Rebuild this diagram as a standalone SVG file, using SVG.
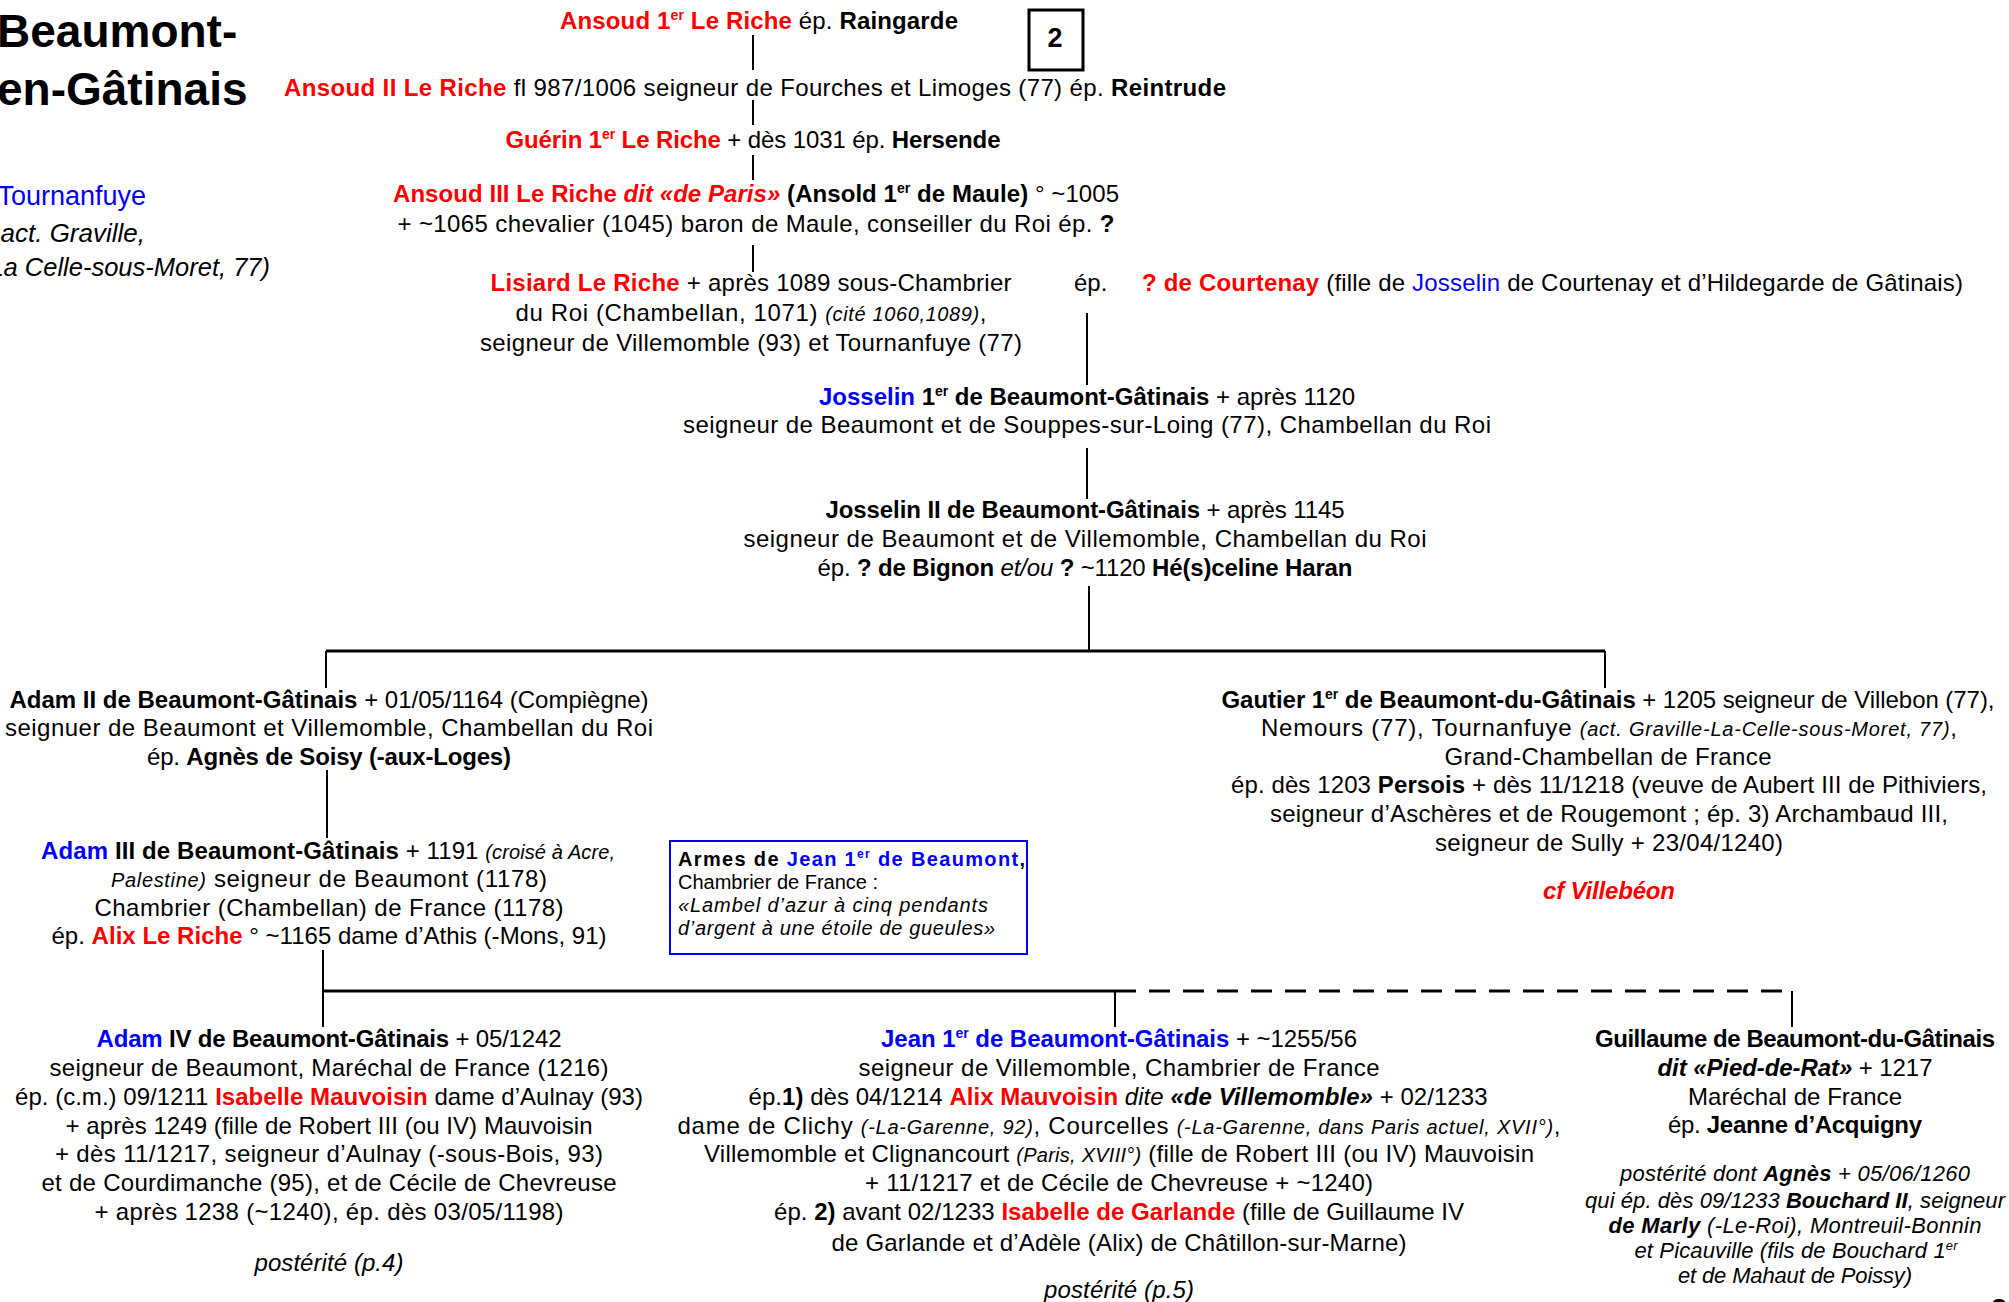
<svg xmlns="http://www.w3.org/2000/svg" width="2009" height="1302" viewBox="0 0 2009 1302">
<style>
text{font-family:"Liberation Sans",Arial,Helvetica,sans-serif;font-size:24px;fill:#000}
.c{text-anchor:middle}
.e{text-anchor:end}
.b{font-weight:bold}
.i{font-style:italic}
.r{fill:#ff0000}
.u{fill:#0000ff}
.s{font-size:20px}
.n{font-size:22px}
.t46{font-size:46px}
.t27{font-size:27px}
.t26{font-size:26px}
.t25{font-size:25.5px}
.ln{stroke:#000;stroke-width:2;fill:none}
.bar{stroke:#000;stroke-width:3;fill:none}
.dash{stroke-dasharray:21 13}
</style>
<rect width="2009" height="1302" fill="#fff"/>

<g id="title">
<text x="-3" y="47" class="b t46">Beaumont-</text>
<text x="-3" y="105" class="b t46">en-Gâtinais</text>
<text x="146" y="205" class="e u t27">Tournanfuye</text>
<text x="145" y="242" class="e i t26">act. Graville,</text>
<text x="270" y="276" class="e i t25">La Celle-sous-Moret, 77)</text>
</g>

<g id="page-box">
<rect x="1029" y="10" width="54" height="60" fill="none" stroke="#000" stroke-width="3"/>
<text x="1055" y="47" class="c b t27">2</text>
</g>

<g id="connectors">
<line class="ln" x1="753" y1="35" x2="753" y2="70"/>
<line class="ln" x1="753" y1="100" x2="753" y2="125"/>
<line class="ln" x1="753" y1="155" x2="753" y2="180"/>
<line class="ln" x1="753" y1="245" x2="753" y2="272"/>
<line class="ln" x1="1087" y1="313" x2="1087" y2="385"/>
<line class="ln" x1="1087" y1="448" x2="1087" y2="499"/>
<line class="ln" x1="1089" y1="586" x2="1089" y2="651"/>
<line class="bar" x1="326" y1="651" x2="1605" y2="651"/>
<line class="ln" x1="326" y1="651" x2="326" y2="688"/>
<line class="ln" x1="1605" y1="651" x2="1605" y2="688"/>
<line class="ln" x1="327" y1="770" x2="327" y2="838"/>
<line class="ln" x1="323" y1="950" x2="323" y2="1027"/>
<line class="bar" x1="323" y1="991" x2="1115" y2="991"/>
<line class="bar dash" x1="1115" y1="991" x2="1792" y2="991"/>
<line class="ln" x1="1115" y1="991" x2="1115" y2="1027"/>
<line class="ln" x1="1792" y1="991" x2="1792" y2="1027"/>
</g>

<g id="n-ansoud1">
<text class="c" x="759" y="29" textLength="398"><tspan class="b r">Ansoud 1<tspan font-size="14" dy="-9">er</tspan><tspan dy="9"> Le Riche</tspan></tspan>  ép. <tspan class="b">Raingarde</tspan></text>
</g>

<g id="n-ansoud2">
<text class="c" x="755" y="96" textLength="942"><tspan class="b r">Ansoud II Le Riche</tspan>  fl 987/1006 seigneur de Fourches et Limoges (77) ép. <tspan class="b">Reintrude</tspan></text>
</g>

<g id="n-guerin">
<text class="c" x="753" y="148" textLength="495"><tspan class="b r">Guérin 1<tspan font-size="14" dy="-9">er</tspan><tspan dy="9"> Le Riche</tspan></tspan> + dès 1031 ép. <tspan class="b">Hersende</tspan></text>
</g>

<g id="n-ansoud3">
<text class="c" x="756" y="202" textLength="726"><tspan class="b r">Ansoud III Le Riche <tspan class="i">dit «de Paris»</tspan></tspan><tspan class="b"> (Ansold 1<tspan font-size="14" dy="-9">er</tspan><tspan dy="9"> de Maule)</tspan></tspan> ° ~1005</text>
<text class="c" x="756" y="232" textLength="717">+ ~1065 chevalier (1045) baron de Maule, conseiller du Roi ép. <tspan class="b">?</tspan></text>
</g>

<g id="n-lisiard">
<text class="c" x="751" y="291" textLength="521"><tspan class="b r">Lisiard Le Riche</tspan> + après 1089 sous-Chambrier</text>
<text class="c" x="751" y="321" textLength="471">du Roi (Chambellan, 1071) <tspan class="i s">(cité 1060,1089)</tspan>,</text>
<text class="c" x="751" y="351" textLength="542">seigneur de Villemomble (93) et Tournanfuye (77)</text>
</g>

<g id="n-courtenay">
<text x="1074" y="291">ép.</text>
<text x="1142" y="291" textLength="821"><tspan class="b r">? de Courtenay</tspan> (fille de <tspan class="u">Josselin</tspan> de Courtenay et d’Hildegarde de Gâtinais)</text>
</g>

<g id="n-josselin1">
<text class="c" x="1087" y="405" textLength="536"><tspan class="b u">Josselin</tspan><tspan class="b"> 1<tspan font-size="14" dy="-9">er</tspan><tspan dy="9"> de Beaumont-Gâtinais</tspan></tspan> + après 1120</text>
<text class="c" x="1087" y="433" textLength="808">seigneur de Beaumont et de Souppes-sur-Loing (77), Chambellan du Roi</text>
</g>

<g id="n-josselin2">
<text class="c" x="1085" y="518" textLength="519"><tspan class="b">Josselin II de Beaumont-Gâtinais</tspan> + après 1145</text>
<text class="c" x="1085" y="547" textLength="683">seigneur de Beaumont et de Villemomble, Chambellan du Roi</text>
<text class="c" x="1085" y="576" textLength="535">ép. <tspan class="b">? de Bignon</tspan> <tspan class="i">et/ou</tspan> <tspan class="b">?</tspan> ~1120 <tspan class="b">Hé(s)celine Haran</tspan></text>
</g>

<g id="n-adam2">
<text class="c" x="329" y="708" textLength="639"><tspan class="b">Adam II de Beaumont-Gâtinais</tspan> + 01/05/1164 (Compiègne)</text>
<text class="c" x="329" y="736" textLength="648">seignuer de Beaumont et Villemomble, Chambellan du Roi</text>
<text class="c" x="329" y="765" textLength="364">ép. <tspan class="b">Agnès de Soisy (-aux-Loges)</tspan></text>
</g>

<g id="n-gautier">
<text class="c" x="1608" y="708" textLength="773"><tspan class="b">Gautier 1<tspan font-size="14" dy="-9">er</tspan><tspan dy="9"> de Beaumont-du-Gâtinais</tspan></tspan> + 1205 seigneur de Villebon (77),</text>
<text class="c" x="1609" y="736" textLength="696">Nemours (77), Tournanfuye <tspan class="i s">(act. Graville-La-Celle-sous-Moret, 77)</tspan>,</text>
<text class="c" x="1608" y="765" textLength="327">Grand-Chambellan de France</text>
<text class="c" x="1609" y="793" textLength="756">ép. dès 1203 <tspan class="b">Persois</tspan> + dès 11/1218 (veuve de Aubert III de Pithiviers,</text>
<text class="c" x="1609" y="822" textLength="678">seigneur d’Aschères et de Rougemont ; ép. 3) Archambaud III,</text>
<text class="c" x="1609" y="851" textLength="348">seigneur de Sully + 23/04/1240)</text>
<text class="c b i r" x="1609" y="899" textLength="132">cf Villebéon</text>
</g>

<g id="n-adam3">
<text class="c" x="328" y="859" textLength="574"><tspan class="b u">Adam</tspan><tspan class="b"> III de Beaumont-Gâtinais</tspan> + 1191 <tspan class="i s">(croisé à Acre,</tspan></text>
<text class="c" x="329" y="887" textLength="436"><tspan class="i s">Palestine)</tspan> seigneur de Beaumont (1178)</text>
<text class="c" x="329" y="916" textLength="469">Chambrier (Chambellan) de France (1178)</text>
<text class="c" x="329" y="944" textLength="555">ép. <tspan class="b r">Alix Le Riche</tspan> ° ~1165 dame d’Athis (-Mons, 91)</text>
</g>

<g id="n-armes">
<rect x="670" y="841" width="357" height="113" fill="none" stroke="#0000ff" stroke-width="2"/>
<text x="678" y="866" class="b s" textLength="347">Armes de <tspan class="u">Jean 1<tspan font-size="12" dy="-8">er</tspan><tspan dy="8"> de Beaumont</tspan></tspan>,</text>
<text x="678" y="889" class="s">Chambrier de France :</text>
<text x="678" y="912" class="s i" textLength="310">«Lambel d’azur à cinq pendants</text>
<text x="678" y="935" class="s i" textLength="317">d’argent à une étoile de gueules»</text>
</g>

<g id="n-adam4">
<text class="c" x="329" y="1047" textLength="465"><tspan class="b u">Adam</tspan><tspan class="b"> IV de Beaumont-Gâtinais</tspan> + 05/1242</text>
<text class="c" x="329" y="1076" textLength="559">seigneur de Beaumont, Maréchal de France (1216)</text>
<text class="c" x="329" y="1105" textLength="628">ép. (c.m.) 09/1211 <tspan class="b r">Isabelle Mauvoisin</tspan> dame d’Aulnay (93)</text>
<text class="c" x="329" y="1134" textLength="527">+ après 1249 (fille de Robert III (ou IV) Mauvoisin</text>
<text class="c" x="329" y="1162" textLength="548">+ dès 11/1217, seigneur d’Aulnay (-sous-Bois, 93)</text>
<text class="c" x="329" y="1191" textLength="575">et de Courdimanche (95), et de Cécile de Chevreuse</text>
<text class="c" x="329" y="1220" textLength="469">+ après 1238 (~1240), ép. dès 03/05/1198)</text>
<text class="c i" x="329" y="1271" textLength="149">postérité (p.4)</text>
</g>

<g id="n-jean1">
<text class="c" x="1119" y="1047" textLength="476"><tspan class="b u">Jean 1<tspan font-size="14" dy="-9">er</tspan><tspan dy="9"> de Beaumont-Gâtinais</tspan></tspan> + ~1255/56</text>
<text class="c" x="1119" y="1076" textLength="521">seigneur de Villemomble, Chambrier de France</text>
<text class="c" x="1118" y="1105" textLength="739">ép.<tspan class="b">1)</tspan> dès 04/1214 <tspan class="b r">Alix Mauvoisin</tspan> <tspan class="i">dite</tspan> <tspan class="b i">«de Villemomble»</tspan> + 02/1233</text>
<text class="c" x="1119" y="1134" textLength="883">dame de Clichy <tspan class="i s">(-La-Garenne, 92)</tspan>, Courcelles <tspan class="i s">(-La-Garenne, dans Paris actuel, XVII°)</tspan>,</text>
<text class="c" x="1119" y="1162" textLength="830">Villemomble et Clignancourt <tspan class="i s">(Paris, XVIII°)</tspan> (fille de Robert III (ou IV) Mauvoisin</text>
<text class="c" x="1119" y="1191" textLength="508">+ 11/1217 et de Cécile de Chevreuse + ~1240)</text>
<text class="c" x="1119" y="1220" textLength="690">ép. <tspan class="b">2)</tspan> avant 02/1233 <tspan class="b r">Isabelle de Garlande</tspan> (fille de Guillaume IV</text>
<text class="c" x="1119" y="1251" textLength="575">de Garlande et d’Adèle (Alix) de Châtillon-sur-Marne)</text>
<text class="c i" x="1119" y="1298" textLength="150">postérité (p.5)</text>
</g>

<g id="n-guillaume">
<text class="c b" x="1795" y="1047" textLength="400">Guillaume de Beaumont-du-Gâtinais</text>
<text class="c" x="1795" y="1076" textLength="275"><tspan class="b i">dit «Pied-de-Rat»</tspan> + 1217</text>
<text class="c" x="1795" y="1105" textLength="214">Maréchal de France</text>
<text class="c" x="1795" y="1133" textLength="254">ép. <tspan class="b">Jeanne d’Acquigny</tspan></text>
<text class="c i n" x="1795" y="1181" textLength="350">postérité dont <tspan class="b">Agnès</tspan> + 05/06/1260</text>
<text class="c i n" x="1795" y="1208" textLength="420">qui ép. dès 09/1233 <tspan class="b">Bouchard II</tspan>, seigneur</text>
<text class="c i n" x="1795" y="1233" textLength="373"><tspan class="b">de Marly</tspan> (-Le-Roi), Montreuil-Bonnin</text>
<text class="c i n" x="1796" y="1258" textLength="323">et Picauville (fils de Bouchard 1<tspan font-size="13" dy="-8">er</tspan></text>
<text class="c i n" x="1795" y="1283" textLength="234">et de Mahaut de Poissy)</text>
</g>

<g id="page-number">
<text class="c b" x="1999" y="1318" style="font-size:28px">3</text>
</g>
</svg>
